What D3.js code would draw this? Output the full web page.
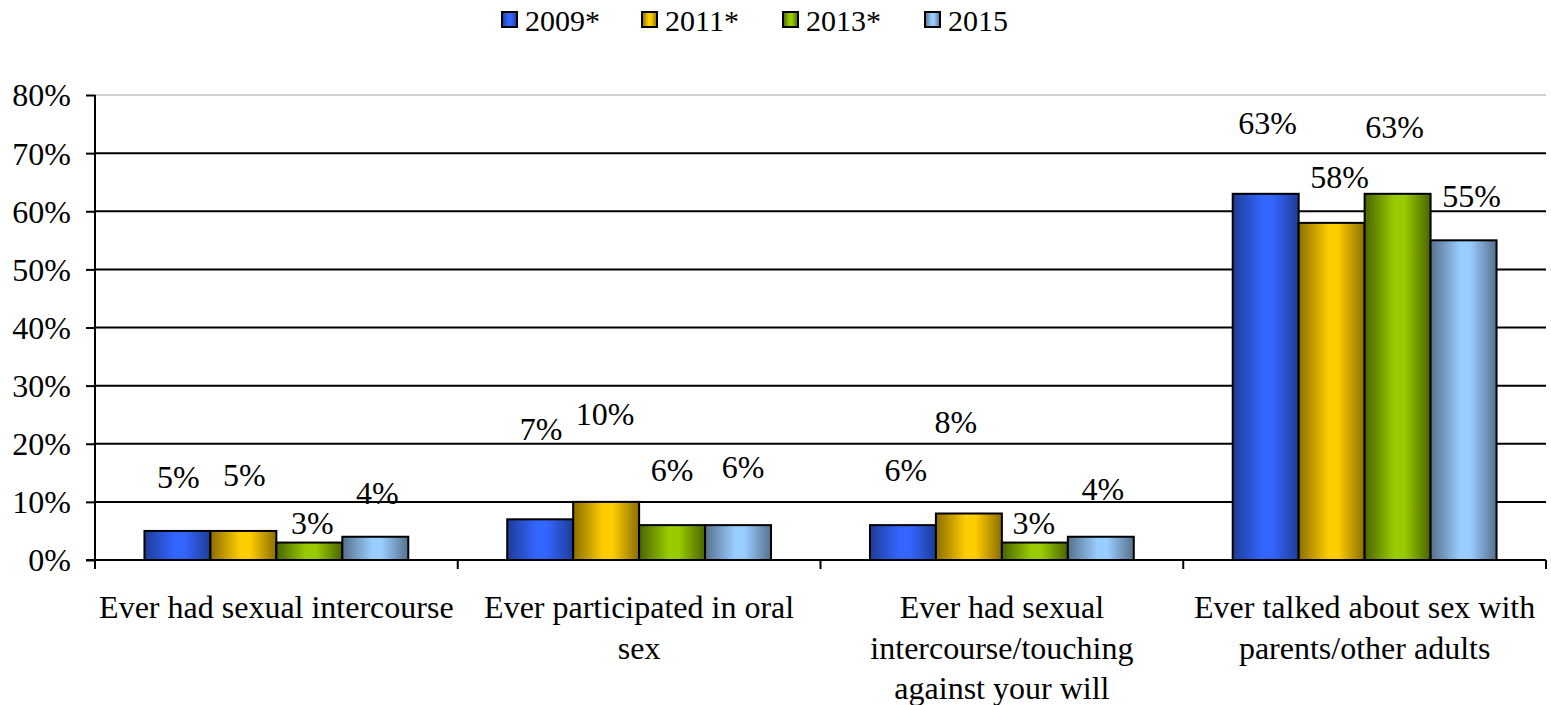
<!DOCTYPE html>
<html><head><meta charset="utf-8">
<script src="https://cdn.jsdelivr.net/npm/d3@7"></script>
<style>body{margin:0;background:#fff}svg{display:block}svg text{font-family:"Liberation Serif","Times New Roman",Times,serif !important;fill:#000}</style>
</head><body><svg id="c" width="1551" height="705"></svg>
<script>
const categories = [
  ["Ever had sexual intercourse"],
  ["Ever participated in oral", "sex"],
  ["Ever had sexual", "intercourse/touching", "against your will"],
  ["Ever talked about sex with", "parents/other adults"]
];
const seriesNames = ["2009*", "2011*", "2013*", "2015"];
const values2009 = [5, 7, 6, 63];
const values2011 = [5, 10, 8, 58];
const values2013 = [3, 6, 3, 63];
const values2015 = [4, 6, 4, 55];
const yTicks = [0, 10, 20, 30, 40, 50, 60, 70, 80];

const seriesValues = [values2009, values2011, values2013, values2015];
const colors = [
  {light:"#3366FF", dark:"#1E3C96"},
  {light:"#FFCC00", dark:"#8A6E00"},
  {light:"#99CC00", dark:"#4A6400"},
  {light:"#99CCFF", dark:"#56708C"}
];
// label nudges (px) to mimic the manually placed labels in the reference
const labelNudge = [
  [[1,-54],[1,-56],[3,-20],[2,-44]],
  [[1,-91],[-1,-88],[0,-55],[5,-58]],
  [[3,-55],[-13,-92],[-1,-20],[2,-48]],
  [[2,-71],[8,-46],[-3,-67],[8,-45]]
];

const svg = d3.select("#c");
const L = 95, R = 1546, T = 95, B = 560;
const FS = 32;
const FF = "Liberation Serif";

const defs = svg.append("defs");
colors.forEach((c,i)=>{
  const g = defs.append("linearGradient").attr("id","g"+i).attr("x1","0").attr("x2","1").attr("y1","0").attr("y2","0");
  g.append("stop").attr("offset","0").attr("stop-color",c.dark);
  g.append("stop").attr("offset","0.45").attr("stop-color",c.light);
  g.append("stop").attr("offset","0.6").attr("stop-color",c.light);
  g.append("stop").attr("offset","1").attr("stop-color",c.dark);
});

const y = d3.scaleLinear().domain([0,80]).range([B,T]);
const catIdx = categories.map((d,i)=>i);
const x0 = d3.scaleBand().domain(catIdx).range([L,R]).paddingInner(0).paddingOuter(0);
const x1 = d3.scaleBand().domain(seriesNames).range([0,x0.bandwidth()]).paddingInner(0).paddingOuter(0.75);

svg.append("line").attr("x1",L).attr("x2",R).attr("y1",y(80)).attr("y2",y(80)).attr("stroke","#c0c0c0").attr("stroke-width",1.5);
svg.append("g").selectAll("line").data(yTicks.filter(t=>t>0&&t<80)).join("line")
  .attr("x1",L).attr("x2",R).attr("y1",d=>y(d)).attr("y2",d=>y(d))
  .attr("stroke","#000").attr("stroke-width",2);

const yAxis = d3.axisLeft(y).tickValues(yTicks).tickFormat(d=>d+"%").tickSize(9).tickPadding(15);
const ya = svg.append("g").attr("transform",`translate(${L},0)`).call(yAxis)
  .attr("font-family",FF).attr("font-size",FS);
ya.select(".domain").remove();
ya.selectAll(".tick line").attr("stroke","#000").attr("stroke-width",2);
ya.selectAll(".tick text").attr("fill","#000").attr("dy","0.34em");
svg.append("line").attr("x1",L).attr("x2",L).attr("y1",T).attr("y2",B+9).attr("stroke","#000").attr("stroke-width",2);

const groups = svg.append("g").selectAll("g").data(catIdx).join("g")
  .attr("transform",d=>`translate(${x0(d)},0)`);
groups.selectAll("rect").data(ci=>seriesNames.map((s,si)=>({ci,si,s,v:seriesValues[si][ci]}))).join("rect")
  .attr("x",d=>x1(d.s)).attr("width",x1.bandwidth())
  .attr("y",d=>y(d.v)).attr("height",d=>y(0)-y(d.v))
  .attr("fill",d=>`url(#g${d.si})`).attr("stroke","#000").attr("stroke-width",2);

svg.append("line").attr("x1",L-9).attr("x2",R).attr("y1",B).attr("y2",B).attr("stroke","#000").attr("stroke-width",2);
svg.append("g").selectAll("line").data(catIdx.slice(1).concat([categories.length])).join("line")
  .attr("x1",d=>d<categories.length?x0(d):R).attr("x2",d=>d<categories.length?x0(d):R)
  .attr("y1",B).attr("y2",B+9).attr("stroke","#000").attr("stroke-width",2);

groups.selectAll("text.v").data(ci=>seriesNames.map((s,si)=>({ci,si,s,v:seriesValues[si][ci]}))).join("text")
  .attr("class","v")
  .attr("x",d=>x1(d.s)+x1.bandwidth()/2+labelNudge[d.ci][d.si][0])
  .attr("y",d=>y(d.v)+labelNudge[d.ci][d.si][1])
  .attr("dy","0.35em").attr("text-anchor","middle").attr("font-size",FS).attr("font-family",FF)
  .text(d=>d.v+"%");

const cl = svg.append("g").selectAll("text").data(catIdx).join("text")
  .attr("text-anchor","middle").attr("font-size",FS).attr("font-family",FF)
  .attr("x",d=>x0(d)+x0.bandwidth()/2).attr("y",607);
cl.selectAll("tspan").data(d=>categories[d].map((t,i)=>({t,i,x:x0(d)+x0.bandwidth()/2}))).join("tspan")
  .attr("x",d=>d.x).attr("dy",d=>d.i===0?"0.35em":"40.5px").text(d=>d.t);

const legX = [502, 642, 783, 925];
const leg = svg.append("g").selectAll("g").data(seriesNames).join("g")
  .attr("transform",(d,i)=>`translate(${legX[i]},12)`);
leg.append("rect").attr("x",1).attr("y",1).attr("width",15).attr("height",15).attr("fill",(d,i)=>colors[i].dark);
leg.append("rect").attr("width",15).attr("height",15).attr("fill",(d,i)=>`url(#g${i})`).attr("stroke","#000").attr("stroke-width",2);
leg.append("text").attr("x",23).attr("y",8).attr("dy","0.35em").attr("font-size",30).attr("font-family",FF).text(d=>d);
</script></body></html>
